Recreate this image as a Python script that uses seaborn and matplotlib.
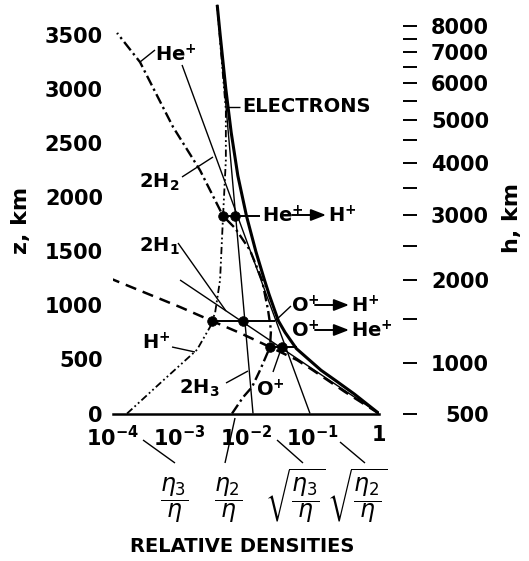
import numpy as np
import pandas as pd
import matplotlib
matplotlib.use("Agg")
import matplotlib.pyplot as plt
import seaborn as sns

# ---- profiles: altitude z (km) and log10 of density relative to base electron density ----
electrons_z = [0, 180, 300, 400, 600, 750, 856, 1100, 1235, 1500, 1827, 2200, 2600, 3000, 3500, 3780]
electrons_log = [0, -0.37, -0.64, -0.87, -1.24, -1.41, -1.51, -1.65, -1.72, -1.85, -1.99,
                 -2.12, -2.22, -2.30, -2.385, -2.43]

oxygen_z = [0, 200, 400, 495, 615, 745, 856, 985, 1240]
oxygen_log = [0, -0.511, -0.991, -1.231, -1.637, -2.087, -2.508, -2.988, -4.0]

helium_z = [0, 150, 245, 400, 615, 770, 960, 1235, 1510, 1715, 1827, 2250, 2650, 3250, 3520]
helium_log = [-2.207, -2.042, -1.907, -1.787, -1.637, -1.622, -1.667, -1.757, -1.937, -2.162,
              -2.342, -2.688, -3.093, -3.589, -3.934]

hydrogen_z = [0, 280, 590, 800, 856, 930, 1235, 1827, 2345, 2810, 3320, 3780]
hydrogen_log = [-3.784, -3.288, -2.733, -2.538, -2.508, -2.462, -2.387, -2.342, -2.300,
                -2.300, -2.370, -2.432]

# straight "2H" lines: end points (z, log10 density)
h1_z = [0, 1235]
h1_log = [0, -2.988]
h2_z = [0, 3224]
h2_log = [-1.036, -2.958]
h3_z = [0, 3780]
h3_log = [-1.892, -2.432]

# transition levels: z, left dot, right dot, end of the level line (log10)
trans_names = ["O+>He+", "O+>H+", "He+>H+"]
trans_z = [615, 856, 1827]
trans_dot1 = [-1.637, -2.508, -2.342]
trans_dot2 = [-1.456, -2.042, -2.162]
trans_end = [-1.231, -1.562, -1.787]

# axes ticks
x_ticks = [1e-4, 1e-3, 1e-2, 1e-1, 1]
x_labels = ["$10^{-4}$", "$10^{-3}$", "$10^{-2}$", "$10^{-1}$", "1"]
z_ticks = [0, 500, 1000, 1500, 2000, 2500, 3000, 3500]
h_ticks = [500, 1000, 2000, 3000, 4000, 5000, 6000, 7000, 8000]
h_minor = [1500, 2500, 3500, 4500, 5500, 6500, 7500]

EARTH_R = 6371.0
BASE_H = 500.0


def z_to_h(z):
    z = np.asarray(z, dtype=float)
    a = EARTH_R + BASE_H
    return (z * EARTH_R + BASE_H * a) / (a - z)


def h_to_z(h):
    h = np.asarray(h, dtype=float)
    a = EARTH_R + BASE_H
    return a * (h - BASE_H) / (EARTH_R + h)


sns.set_theme(style="white")
K = "black"
plt.rcParams.update({
    "font.family": ["DejaVu Sans"],
    "font.weight": "normal",
    "mathtext.default": "regular",
    "axes.linewidth": 1.6,
    "lines.solid_capstyle": "butt",
    "text.color": K,
})

fig = plt.figure(figsize=(5.29, 5.61), dpi=100)
ax = fig.add_axes([0.2130, 0.2629, 0.5034, 0.7323])
ax.set_facecolor("white")


def curve(z, logv):
    return pd.DataFrame({"x": np.power(10.0, logv), "z": z})


common = dict(x="x", y="z", sort=False, estimator=None, color=K, ax=ax, legend=False)

sns.lineplot(data=curve(electrons_z, electrons_log), lw=2.2, **common)
sns.lineplot(data=curve(oxygen_z, oxygen_log), lw=1.8, linestyle=(0, (4.5, 2.8)), **common)
sns.lineplot(data=curve(helium_z, helium_log), lw=1.7, linestyle=(0, (4.5, 1.6, 1.0, 1.6)), **common)
sns.lineplot(data=curve(hydrogen_z, hydrogen_log), lw=1.3,
             linestyle=(0, (4.0, 1.6, 1.0, 1.6, 1.0, 1.6)), **common)
for zz, lg in [(h1_z, h1_log), (h2_z, h2_log), (h3_z, h3_log)]:
    sns.lineplot(data=curve(zz, lg), lw=1.0, **common)

# transition levels
for zl, d1, d2, e in zip(trans_z, trans_dot1, trans_dot2, trans_end):
    sns.lineplot(data=curve([zl, zl], [d1, e]), lw=1.4, **common)
dots = pd.DataFrame({"x": np.power(10.0, trans_dot1 + trans_dot2), "z": trans_z + trans_z})
sns.scatterplot(data=dots, x="x", y="z", s=48, color=K, edgecolor=K, zorder=5, ax=ax, legend=False)

ax.set_xscale("log")
ax.set_xlim(1e-4, 1)
ax.set_ylim(0, 3800)
for s in ["top", "right", "left"]:
    ax.spines[s].set_visible(False)
ax.spines["bottom"].set_color(K)
ax.spines["bottom"].set_linewidth(1.8)

ax.set_xticks(x_ticks)
ax.set_xticklabels(x_labels)
ax.xaxis.set_minor_locator(matplotlib.ticker.NullLocator())
ax.tick_params(axis="x", direction="in", length=8, width=1.4, colors=K, labelsize=15, pad=8)
ax.set_yticks(z_ticks)
ax.set_yticklabels([str(v) for v in z_ticks])
ax.tick_params(axis="y", direction="in", length=10, width=1.4, colors=K, labelsize=15, pad=7)
ax.yaxis.get_major_ticks()[0].tick1line.set_visible(False)
ax.set_xlabel("")
ax.set_ylabel("")

# right axis: true height h
sec = ax.secondary_yaxis(1.090, functions=(z_to_h, h_to_z))
sec.spines["right"].set_visible(False)
sec.set_yticks(h_ticks)
sec.set_yticklabels([str(v) for v in h_ticks])
sec.set_yticks(h_minor, minor=True)
sec.tick_params(axis="y", which="both", direction="out", length=10, width=1.4, colors=K,
                labelsize=15, pad=52)
for lbl in sec.get_yticklabels():
    lbl.set_horizontalalignment("right")
for lbl in ax.get_xticklabels() + ax.get_yticklabels() + sec.get_yticklabels():
    lbl.set_fontweight("bold")

fs = 14
fig.text(21 / 529, 1 - 220 / 561, "z, km", rotation=90, ha="center", va="center", fontsize=16,
         color=K, fontweight="bold")
fig.text(512 / 529, 1 - 218 / 561, "h, km", rotation=90, ha="center", va="center", fontsize=16,
         color=K, fontweight="bold")


def lab(px, py, s, **kw):
    fig.text(px / 529, 1 - py / 561, s, fontsize=kw.pop("fontsize", fs), ha=kw.pop("ha", "left"),
             va=kw.pop("va", "center"), color=K, fontweight=kw.pop("fontweight", "bold"), **kw)


def leader(p0, p1, lw=1.0):
    fig.add_artist(plt.Line2D([p0[0] / 529, p1[0] / 529], [1 - p0[1] / 561, 1 - p1[1] / 561],
                              color=K, lw=lw, transform=fig.transFigure))


# curve labels with leader lines
lab(155, 55, "He$^{+}$")
leader((140, 62), (155, 50))
lab(242, 107, "ELECTRONS")
leader((227, 107), (240, 107))
lab(139, 182, "2H$_2$")
leader((182, 177), (213, 157))
lab(139, 246, "2H$_1$")
leader((178, 243), (226, 311))
lab(142, 343, "H$^{+}$")
leader((172, 347), (195, 352))
lab(179, 388, "2H$_3$")
leader((226, 383), (248, 371))
lab(256, 390, "O$^{+}$")
leader((273, 372), (280, 352))


def arrow_label(px, py, a, b, gap=30):
    lab(px, py, a)
    fig.add_artist(matplotlib.patches.FancyArrowPatch(
        ((px + gap) / 529, 1 - (py - 1) / 561), ((px + gap + 34) / 529, 1 - (py - 1) / 561),
        transform=fig.transFigure, arrowstyle="-|>,head_length=9,head_width=3.5",
        color=K, lw=1.4, mutation_scale=1.0, shrinkA=0, shrinkB=0))
    lab(px + gap + 36, py, b)


arrow_label(262, 216, "He$^{+}$", "H$^{+}$")
arrow_label(291, 306, "O$^{+}$", "H$^{+}$", gap=24)
leader((275, 321), (291, 306))
arrow_label(291, 331, "O$^{+}$", "He$^{+}$", gap=24)

# bottom annotations: density ratios at the base
eta_kw = dict(ha="center", fontsize=17, fontweight="normal")
lab(174, 500, r"$\dfrac{\mathit{\eta}_3}{\mathit{\eta}}$", **eta_kw)
lab(228, 500, r"$\dfrac{\mathit{\eta}_2}{\mathit{\eta}}$", **eta_kw)
lab(295, 496, r"$\sqrt{\dfrac{\mathit{\eta}_3}{\mathit{\eta}}}$", **eta_kw)
lab(357, 496, r"$\sqrt{\dfrac{\mathit{\eta}_2}{\mathit{\eta}}}$", **eta_kw)
leader((175, 463), (143, 440))
leader((225, 463), (235, 418))
leader((303, 463), (277, 440))
leader((365, 463), (340, 442))
lab(242, 547, "RELATIVE DENSITIES", ha="center")

fig.savefig("out.png", dpi=100, facecolor="white")
